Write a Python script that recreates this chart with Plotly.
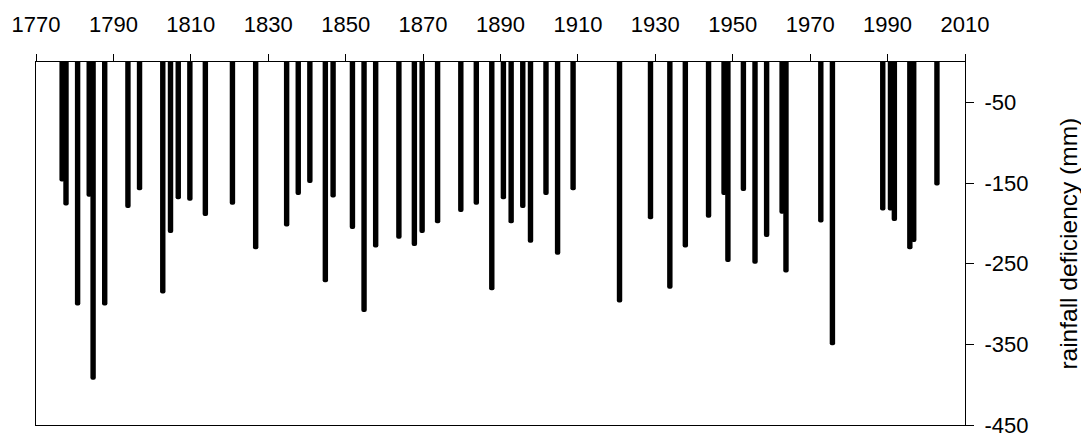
import plotly.graph_objects as go

# Drought years and their rainfall deficiency (mm)
years = [
    1776, 1777, 1780, 1783, 1784, 1787, 1793, 1796, 1802, 1804,
    1806, 1809, 1813, 1820, 1826, 1834, 1837, 1840, 1844, 1846,
    1851, 1854, 1857, 1863, 1867, 1869, 1873, 1879, 1883, 1887,
    1890, 1892, 1895, 1897, 1901, 1904, 1908, 1920, 1928, 1933,
    1937, 1943, 1947, 1948, 1952, 1955, 1958, 1962, 1963, 1972,
    1975, 1988, 1990, 1991, 1995, 1996, 2002,
]
deficiency = [
    -148, -178, -302, -167, -394, -302, -181, -159, -287, -212,
    -170, -172, -191, -177, -232, -204, -165, -150, -273, -168,
    -207, -310, -230, -219, -228, -212, -200, -186, -177, -283,
    -170, -200, -181, -224, -165, -239, -159, -298, -195, -281,
    -230, -193, -165, -248, -160, -250, -217, -188, -261, -199,
    -351, -184, -184, -197, -232, -223, -153,
]

year_ticks = list(range(1770, 2011, 20))
deficiency_ticks = [-50, -150, -250, -350, -450]

# each bar sits inside its year's slot on the time axis
BAR_OFFSET = 0.75
FONT = "Liberation Sans, Arial, sans-serif"

fig = go.Figure(
    go.Bar(
        x=[y + BAR_OFFSET for y in years],
        y=deficiency,
        width=1.4,
        marker=dict(color="black", cornerradius="50%", line=dict(width=0)),
        hovertemplate="%{y} mm<extra></extra>",
    )
)

fig.update_layout(
    width=1081,
    height=435,
    margin=dict(l=36, r=116, t=62, b=10, autoexpand=False),
    plot_bgcolor="white",
    paper_bgcolor="white",
    showlegend=False,
    font=dict(family=FONT, color="black"),
)

fig.update_xaxes(
    range=[1770, 2010],
    side="top",
    tickmode="array",
    tickvals=year_ticks,
    ticktext=[str(t) for t in year_ticks],
    ticks="outside",
    ticklen=7,
    tickcolor="black",
    tickwidth=1,
    showline=True,
    linecolor="black",
    linewidth=1,
    mirror=True,
    showgrid=False,
    zeroline=False,
    automargin=False,
    tickfont=dict(size=22, family=FONT, color="black"),
    ticklabelstandoff=13,
)

fig.update_yaxes(
    range=[-450, 0],
    side="right",
    tickmode="array",
    tickvals=deficiency_ticks,
    ticktext=[str(t) for t in deficiency_ticks],
    ticks="outside",
    ticklen=8,
    tickcolor="black",
    tickwidth=1,
    showline=True,
    linecolor="black",
    linewidth=1,
    mirror=True,
    showgrid=False,
    zeroline=False,
    automargin=False,
    ticklabeloverflow="allow",
    tickfont=dict(size=22, family=FONT, color="black"),
    ticklabelstandoff=6,
)

fig.add_annotation(
    text="rainfall deficiency (mm)",
    xref="paper",
    yref="paper",
    x=1.111,
    y=0.5,
    xanchor="center",
    yanchor="middle",
    textangle=-90,
    showarrow=False,
    font=dict(size=24.5, family=FONT, color="black"),
)

fig.write_html("out.html")
